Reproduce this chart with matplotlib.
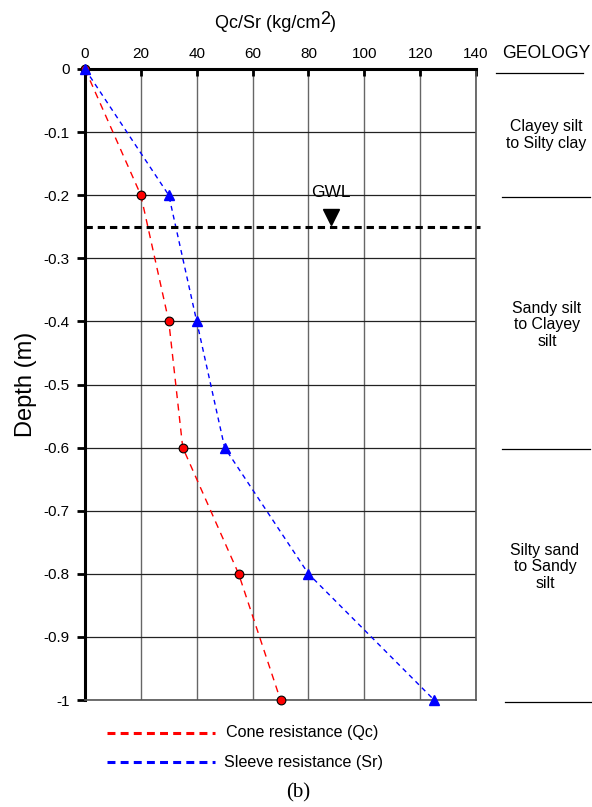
import matplotlib
matplotlib.use("Agg")
import matplotlib.pyplot as plt
from matplotlib.lines import Line2D

plt.rcParams['font.family'] = ['Liberation Sans', 'DejaVu Sans']

depth = [0, -0.2, -0.4, -0.6, -0.8, -1.0]
qc = [0, 20, 30, 35, 55, 70]
sr = [0, 30, 40, 50, 80, 125]
x_ticks = [0, 20, 40, 60, 80, 100, 120, 140]
y_ticks = [0, -0.1, -0.2, -0.3, -0.4, -0.5, -0.6, -0.7, -0.8, -0.9, -1]
y_tick_labels = ['0', '-0.1', '-0.2', '-0.3', '-0.4', '-0.5', '-0.6', '-0.7', '-0.8', '-0.9', '-1']
gwl_depth = -0.25
gwl_x = 88
geology = ['Clayey silt\nto Silty clay', 'Sandy silt\nto Clayey\nsilt', 'Silty sand\nto Sandy\nsilt']

W, H = 592, 807


def fx(px):
    return px / W


def fy(py):
    return 1 - py / H


fig = plt.figure(figsize=(5.92, 8.07), dpi=100)
ax = fig.add_axes([fx(85), fy(700), 391 / W, 631 / H])
ax.set_xlim(0, 140)
ax.set_ylim(-1, 0)

for xv in x_ticks[1:]:
    ax.axvline(xv, color='#666666', lw=1.0, zorder=1)
for yv in y_ticks[1:]:
    ax.axhline(yv, color='#222222', lw=0.9, zorder=1)

ax.plot(qc, depth, color='red', lw=1.0, linestyle=(0, (5, 4)), zorder=3)
ax.plot(sr, depth, color='blue', lw=1.0, linestyle=(0, (3.5, 3)), zorder=3)
ax.plot(qc, depth, linestyle='none', marker='o', ms=6.3, mfc='red', mec='black',
        mew=0.8, zorder=5, clip_on=False)
ax.plot(sr, depth, linestyle='none', marker='^', ms=7, mfc='blue', mec='blue',
        zorder=5, clip_on=False)

ax.axhline(gwl_depth, xmax=1.01, color='black', lw=2.2, linestyle=(0, (2.4, 1.6)), zorder=4, clip_on=False)
ax.plot([gwl_x], [-0.234], marker='v', ms=12, color='black', linestyle='none', zorder=5)
ax.text(gwl_x, -0.195, 'GWL', ha='center', va='center', fontsize=12.5)

ax.xaxis.tick_top()
ax.set_xticks(x_ticks)
ax.set_xticklabels([str(v) for v in x_ticks], fontsize=11)
ax.set_yticks(y_ticks)
ax.set_yticklabels(y_tick_labels, fontsize=11)
ax.tick_params(axis='x', direction='in', length=5, width=2, pad=6)
ax.tick_params(axis='y', direction='out', length=6, width=2, pad=5)
ax.set_ylabel('Depth (m)', fontsize=17)
ax.yaxis.set_label_coords(-0.1228, 0.5)

for s in ['top', 'left']:
    ax.spines[s].set_linewidth(2.2)
for s in ['bottom', 'right']:
    ax.spines[s].set_linewidth(1.2)
    ax.spines[s].set_color('#555555')

# top axis label with full-size raised "2"
t1 = fig.text(fx(215), fy(24), 'Qc/Sr (kg/cm', ha='left', va='center', fontsize=13)
fig.canvas.draw()
r = fig.canvas.get_renderer()
b1 = t1.get_window_extent(r)
t2 = fig.text(b1.x1 / W, fy(20), '2', ha='left', va='center', fontsize=13)
b2 = t2.get_window_extent(r)
fig.text(b2.x1 / W, fy(24), ')', ha='left', va='center', fontsize=13)

# Geology column
fig.text(fx(546), fy(54), 'GEOLOGY', ha='center', va='center', fontsize=12.7)
for (x0, x1, yp) in [(496, 583, 73), (502, 590, 197), (502, 590, 449), (505, 592, 702)]:
    fig.add_artist(Line2D([fx(x0), fx(x1)], [fy(yp), fy(yp)], color='black', lw=0.9))
fig.text(fx(546), fy(135), geology[0], ha='center', va='center', fontsize=11.4, linespacing=1.15)
fig.text(fx(547), fy(325), geology[1], ha='center', va='center', fontsize=11.4, linespacing=1.15)
fig.text(fx(545), fy(567), geology[2], ha='center', va='center', fontsize=11.4, linespacing=1.15)

# Legend
fig.add_artist(Line2D([fx(107), fx(215)], [fy(733), fy(733)], color='red', lw=2.2,
                      linestyle=(0, (2.6, 1.7))))
fig.add_artist(Line2D([fx(107), fx(215)], [fy(762), fy(762)], color='blue', lw=2.2,
                      linestyle=(0, (2.6, 1.7))))
fig.text(fx(226), fy(733), 'Cone resistance (Qc)', ha='left', va='center', fontsize=11.6)
fig.text(fx(224), fy(762), 'Sleeve resistance (Sr)', ha='left', va='center', fontsize=11.6)
fig.text(fx(298), fy(793), '(b)', ha='center', va='center', fontsize=15,
         family=['Liberation Serif', 'DejaVu Serif'])

fig.savefig('out.png', dpi=100)
